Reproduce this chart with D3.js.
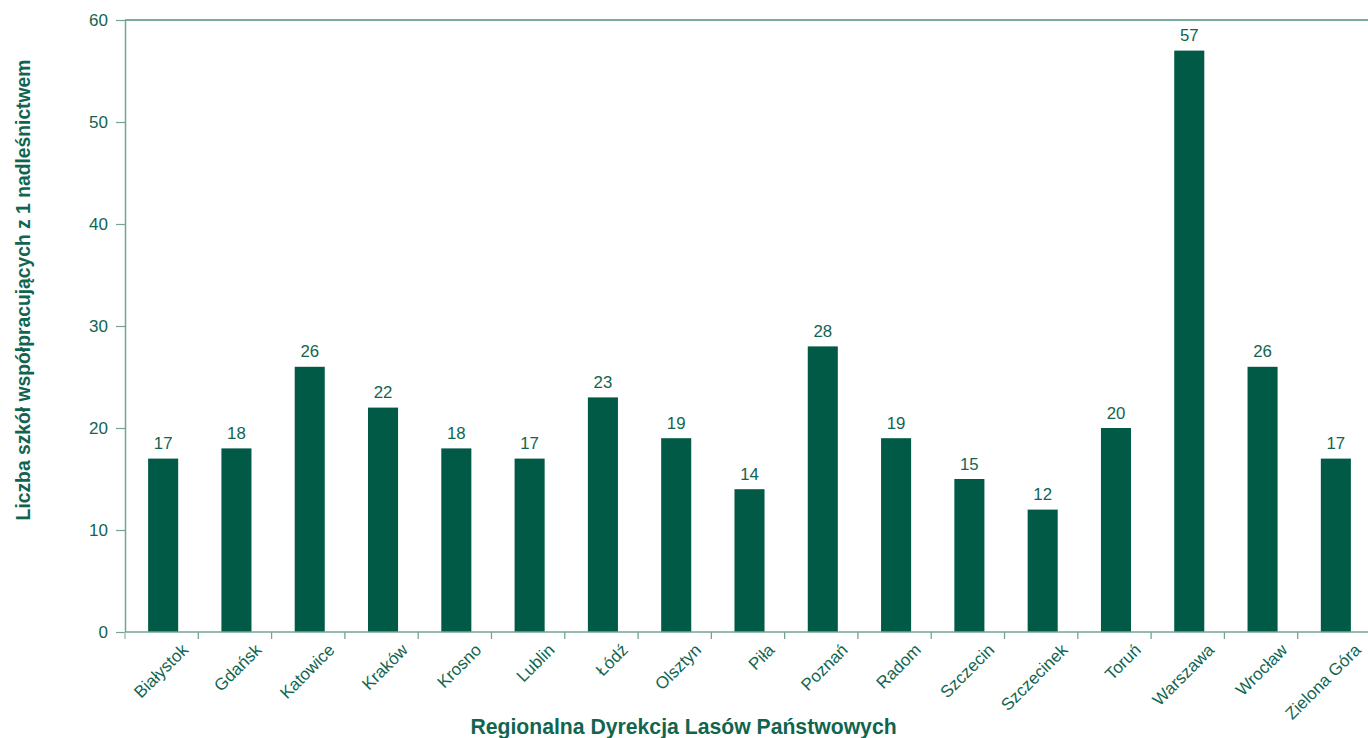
<!DOCTYPE html>
<html><head><meta charset="utf-8">
<script src="https://cdn.jsdelivr.net/npm/d3@7"></script>
<style>
html,body{margin:0;padding:0;background:#fff;}
svg{display:block;font-family:"Liberation Sans",Arial,sans-serif;}
</style></head>
<body>
<svg id="chart" width="1368" height="738"></svg>
<script>
const categories = ["Białystok","Gdańsk","Katowice","Kraków","Krosno","Lublin","Łódź","Olsztyn","Piła","Poznań","Radom","Szczecin","Szczecinek","Toruń","Warszawa","Wrocław","Zielona Góra"];
const values = [17,18,26,22,18,17,23,19,14,28,19,15,12,20,57,26,17];
const yTicks = [0,10,20,30,40,50,60];
const yTitle = "Liczba szkół współpracujących z 1 nadleśnictwem";
const xTitle = "Regionalna Dyrekcja Lasów Państwowych";

(function(){
const textColor = "#11654f", barColor = "#005a46", axisColor = "#74a497";
const svg = d3.select("#chart");
const mLeft = 125, mRight = 1371, mTop = 20, mBottom = 632;

const x = d3.scaleBand().domain(categories).range([mLeft, mRight]).paddingInner(0.59).paddingOuter(0.295);
const xStep = d3.scaleBand().domain(categories).range([mLeft, mRight]).padding(0);
const y = d3.scaleLinear().domain([0, 60]).range([mBottom, mTop]);

// top border
svg.append("line").attr("x1", mLeft).attr("x2", 1368).attr("y1", y(60)).attr("y2", y(60))
  .attr("stroke", "#4f8e7e").attr("stroke-width", 1.3);

// y axis
const yAxis = svg.append("g").attr("transform", `translate(${mLeft},0)`)
  .call(d3.axisLeft(y).tickValues(yTicks).tickSize(9).tickPadding(8).tickSizeOuter(0));
yAxis.select(".domain").attr("stroke", axisColor).attr("stroke-width", 1.5);
yAxis.selectAll(".tick line").attr("stroke", axisColor).attr("stroke-width", 1.2);
yAxis.selectAll(".tick text").attr("fill", textColor).attr("font-size", 17).attr("font-family", "Liberation Sans, Arial, sans-serif");

// bars
svg.append("g").selectAll("rect").data(values).join("rect")
  .attr("x", (d, i) => x(categories[i]) + 1.5)
  .attr("width", x.bandwidth())
  .attr("y", d => y(d))
  .attr("height", d => y(0) - y(d))
  .attr("fill", barColor);

// value labels
svg.append("g").selectAll("text").data(values).join("text")
  .attr("x", (d, i) => x(categories[i]) + 1.5 + x.bandwidth() / 2)
  .attr("y", d => y(d) - 9.5)
  .attr("text-anchor", "middle")
  .attr("font-size", 16.8)
  .attr("fill", textColor)
  .text(d => d);

// x axis
const xg = svg.append("g");
xg.append("line").attr("x1", mLeft).attr("x2", 1368).attr("y1", mBottom).attr("y2", mBottom)
  .attr("stroke", axisColor).attr("stroke-width", 1.5);
xg.append("line").attr("x1", mLeft).attr("x2", mLeft).attr("y1", mBottom).attr("y2", mBottom + 7)
  .attr("stroke", "#a9bcb6").attr("stroke-width", 1.5);
xg.selectAll("line.tk").data(categories.slice(1)).join("line").attr("class", "tk")
  .attr("x1", d => xStep(d)).attr("x2", d => xStep(d))
  .attr("y1", mBottom).attr("y2", mBottom + 7)
  .attr("stroke", axisColor).attr("stroke-width", 1.3);
xg.selectAll("text").data(categories).join("text")
  .attr("transform", d => `translate(${x(d) + 1.5 + x.bandwidth() / 2 + 26},${mBottom + 19}) rotate(-45)`)
  .attr("text-anchor", "end")
  .attr("font-size", 17)
  .attr("fill", textColor)
  .text(d => d);

// titles
svg.append("text")
  .attr("transform", `translate(30,290) rotate(-90)`)
  .attr("text-anchor", "middle")
  .attr("font-size", 19.3)
  .attr("font-weight", "bold")
  .attr("fill", textColor)
  .text(yTitle);
svg.append("text")
  .attr("x", 683.5).attr("y", 733.5)
  .attr("text-anchor", "middle")
  .attr("font-size", 21.2)
  .attr("font-weight", "bold")
  .attr("fill", textColor)
  .text(xTitle);
})();
</script>
</body></html>
